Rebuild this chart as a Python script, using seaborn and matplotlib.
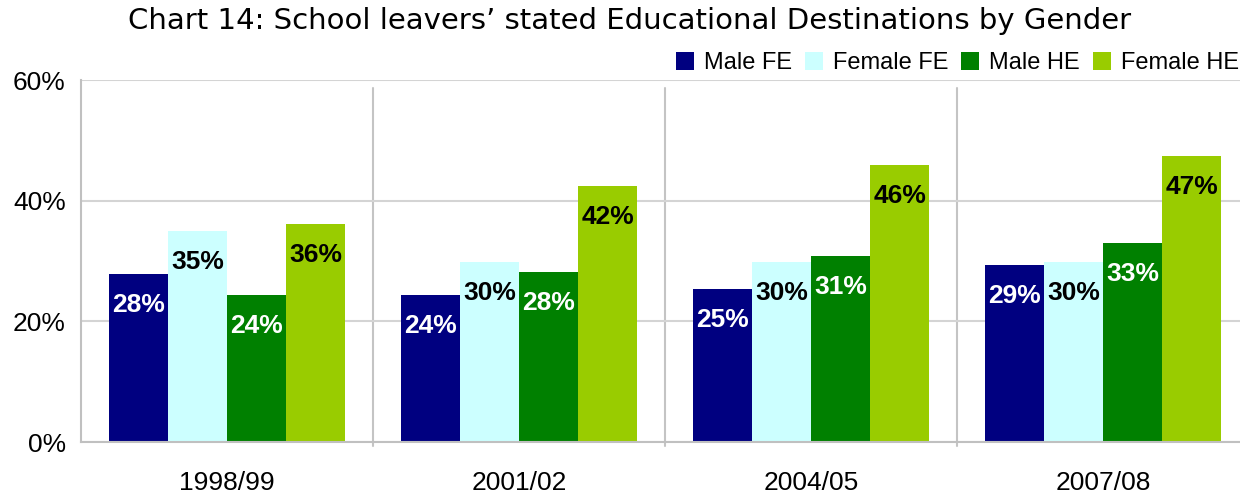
import matplotlib as mpl
import matplotlib.pyplot as plt
import pandas as pd
import seaborn as sns

years = ['1998/99', '2001/02', '2004/05', '2007/08']
series = ['Male FE', 'Female FE', 'Male HE', 'Female HE']
male_fe = [27.9, 24.4, 25.4, 29.4]
female_fe = [35.0, 29.9, 29.9, 29.9]
male_he = [24.4, 28.2, 30.8, 33.0]
female_he = [36.2, 42.4, 45.9, 47.4]

COLORS = ['#000080', '#CCFFFF', '#008000', '#99CC00']
LABEL_COLORS = ['white', 'black', 'white', 'black']

df = pd.DataFrame({
    'year': years * 4,
    'series': [s for s in series for _ in years],
    'value': male_fe + female_fe + male_he + female_he,
})

sns.set_style('white')
mpl.rcParams['font.family'] = ['Liberation Sans', 'DejaVu Sans']
mpl.rcParams['text.color'] = 'black'
mpl.rcParams['xtick.labelcolor'] = 'black'
mpl.rcParams['ytick.labelcolor'] = 'black'

fig = plt.figure(figsize=(12.4, 4.97), dpi=100)
ax = fig.add_axes([81 / 1240, 55 / 497, 1168 / 1240, 362 / 497])

sns.barplot(data=df, x='year', y='value', hue='series', hue_order=series,
            palette=COLORS, saturation=1, width=0.81, gap=0,
            errorbar=None, linewidth=0, ax=ax)

# data labels inside the top of each bar
for cont, col in zip(ax.containers, LABEL_COLORS):
    for bar in cont:
        h = bar.get_height()
        ax.annotate(f'{h:.0f}%', (bar.get_x() + bar.get_width() / 2, h),
                    xytext=(0, -31), textcoords='offset pixels',
                    ha='center', va='center', color=col,
                    fontsize=19, fontweight='bold')

ax.set_xlim(-0.5, 3.5)
ax.set_ylim(0, 60)
ax.set_yticks([0, 20, 40, 60])
ax.set_yticklabels([f'{v}%' for v in [0, 20, 40, 60]], fontsize=19)
ax.tick_params(axis='y', length=8, width=1.2, color='#c0c0c0', pad=3,
               labelcolor='black')
ax.tick_params(axis='x', length=0, pad=21, labelsize=19, labelcolor='black')
ax.set_xlabel('')
ax.set_ylabel('')

ax.grid(axis='y', color='#d4d4d4', linewidth=1.5)
ax.set_axisbelow(True)
for side in ['top', 'right']:
    ax.spines[side].set_visible(False)
for side in ['left', 'bottom']:
    ax.spines[side].set_color('#c0c0c0')
    ax.spines[side].set_linewidth(1.5)

# category separators
for xv in [0.5, 1.5, 2.5]:
    ax.axvline(xv, ymin=-0.012, ymax=0.978, color='#c4c4c4',
               linewidth=1.5, clip_on=False, zorder=0)

handles, labels = ax.get_legend_handles_labels()
ax.get_legend().remove()
fig.legend(handles, labels, loc='center right', bbox_to_anchor=(0.999, 0.873),
           ncol=4, frameon=False, fontsize=17, handlelength=0.76,
           handleheight=0.76, handletextpad=0.42, columnspacing=0.55,
           borderpad=0, borderaxespad=0, labelcolor='black')

fig.text(0.508, 0.958, 'Chart 14: School leavers\u2019 stated Educational Destinations by Gender',
         ha='center', va='center', fontsize=21, family='DejaVu Sans',
         color='black')

fig.savefig('out.png', dpi=100)
